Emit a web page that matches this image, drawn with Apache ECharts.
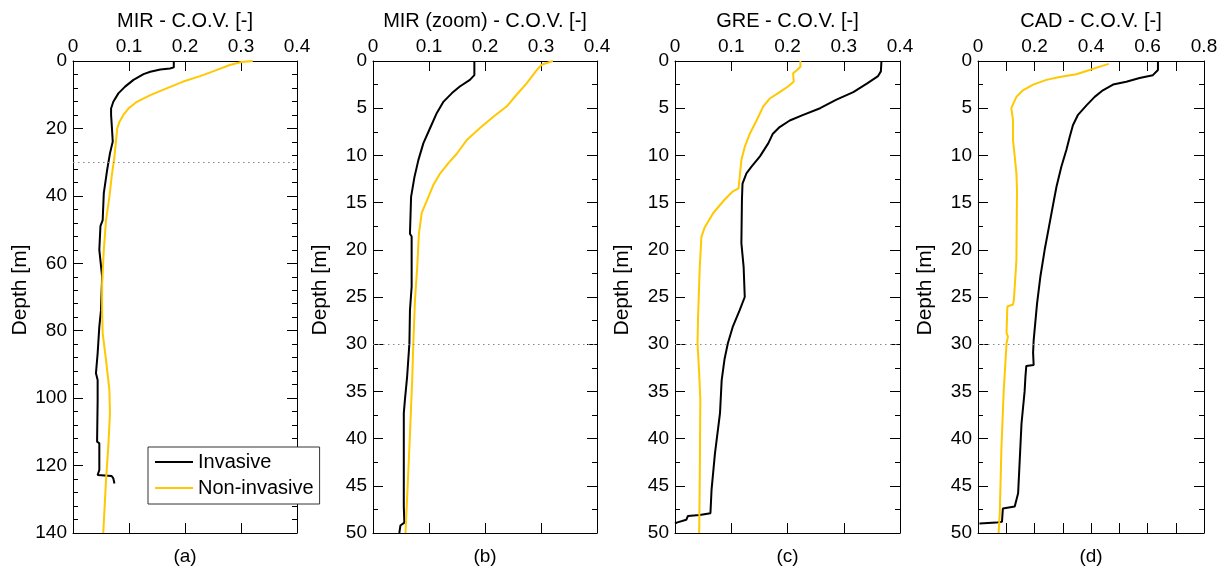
<!DOCTYPE html>
<html>
<head>
<meta charset="utf-8">
<script src="https://cdn.jsdelivr.net/npm/echarts@6/dist/echarts.min.js"></script>
<style>
html,body{margin:0;padding:0;background:#fff;}
#c{width:1228px;height:573px;}
</style>
</head>
<body>
<div id="c"></div>
<script>
// ---------- DATA (depth [m], C.O.V. [-]) ----------
const panelTitles = ['MIR - C.O.V. [-]', 'MIR (zoom) - C.O.V. [-]', 'GRE - C.O.V. [-]', 'CAD - C.O.V. [-]'];
const panelLetters = ['(a)', '(b)', '(c)', '(d)'];
const seriesNames = ['Invasive', 'Non-invasive'];
const depthMax = [140, 50, 50, 50];
const depthInterval = [20, 5, 5, 5];
const covMax = [0.4, 0.4, 0.4, 0.8];
const refDepth = 30;

const depthA_inv = [0,1.9,2.2,2.5,3.2,3.9,5.6,7.6,9.6,12.1,14.1,16.0,18.5,23.9,27.4,32.3,39.2,47.2,49.0,56.0,64.0,73.9,78.8,86.7,92.6,94.6,100.6,112.9,113.4,121.3,122.8,123.1,123.8,125.3];
const covA_inv   = [0.180,0.180,0.173,0.156,0.138,0.126,0.108,0.093,0.081,0.072,0.068,0.068,0.069,0.071,0.066,0.061,0.055,0.053,0.049,0.047,0.052,0.050,0.047,0.044,0.041,0.044,0.044,0.043,0.047,0.047,0.044,0.069,0.072,0.074];
const depthA_non = [0,0.3,1.2,2.7,4.5,6.1,8.1,10.1,12.1,14.1,16.0,18.0,20.0,23.4,28.4,34.3,40.3,47.2,56.1,66.0,73.9,80.8,88.7,97.6,104.5,114.4,124.3,140];
const covA_non   = [0.321,0.301,0.280,0.256,0.227,0.197,0.167,0.138,0.114,0.099,0.090,0.083,0.079,0.077,0.074,0.069,0.065,0.059,0.055,0.052,0.052,0.053,0.059,0.065,0.066,0.063,0.059,0.054];

const depthB_inv = [0,1.5,2.0,2.7,3.4,4.3,5.5,7.1,8.7,10.5,12.3,14.4,18.3,18.6,23.9,26.4,29.9,33.4,35.9,37.3,47.2,48.9,49.2,50];
const covB_inv   = [0.181,0.181,0.173,0.155,0.141,0.126,0.114,0.102,0.090,0.081,0.074,0.068,0.066,0.069,0.069,0.066,0.065,0.061,0.057,0.055,0.055,0.056,0.049,0.047];
const depthB_non = [0,0.4,1.0,2.4,3.6,4.8,5.9,7.1,8.4,9.8,10.8,11.9,13.1,14.4,16.1,18.3,21.8,25.3,29.9,33.8,40.9,46.2,50];
const covB_non   = [0.321,0.301,0.292,0.274,0.256,0.239,0.215,0.191,0.167,0.150,0.135,0.120,0.108,0.099,0.087,0.082,0.079,0.075,0.072,0.070,0.065,0.061,0.058];

const depthC_inv = [0,1.1,1.6,2.4,3.3,4.1,5.0,5.7,6.3,7.0,7.7,8.7,10.1,11.2,11.9,13.0,14.7,19.3,21.8,25.0,26.4,28.1,29.9,31.6,33.8,37.3,41.6,45.4,47.9,48.1,48.2,48.6,48.9,49.0];
const covC_inv   = [0.367,0.366,0.361,0.341,0.317,0.287,0.258,0.228,0.204,0.186,0.174,0.166,0.151,0.136,0.127,0.120,0.119,0.118,0.122,0.124,0.115,0.103,0.094,0.088,0.083,0.080,0.071,0.065,0.063,0.044,0.023,0.020,0.003,0.000];
const depthC_non = [0,0.6,1.0,1.3,2.2,2.7,3.3,4.0,4.8,6.3,7.7,9.1,10.5,12.3,13.5,13.8,14.7,16.1,17.6,18.6,21.8,27.1,29.9,33.1,35.9,44.4,50];
const covC_non   = [0.223,0.223,0.216,0.210,0.211,0.201,0.186,0.168,0.157,0.145,0.133,0.124,0.118,0.115,0.113,0.103,0.088,0.068,0.053,0.047,0.044,0.041,0.040,0.043,0.045,0.044,0.043];

const depthD_inv = [0,0.95,1.5,1.8,2.2,2.5,3.1,3.8,4.7,5.7,6.8,8.0,9.4,11.2,13.3,14.7,17.6,20.0,22.8,25.7,29.6,30.9,31.1,32.2,32.3,33.4,35.0,38.4,45.8,47.2,47.4,48.8,48.9,49.0];
const covD_inv   = [0.637,0.637,0.619,0.572,0.525,0.478,0.442,0.413,0.384,0.354,0.336,0.325,0.313,0.295,0.278,0.269,0.251,0.236,0.221,0.209,0.197,0.195,0.201,0.197,0.171,0.168,0.165,0.154,0.142,0.130,0.088,0.085,0.065,0.005];
const depthD_non = [0.3,0.6,0.95,1.4,1.7,2.0,2.5,3.1,3.8,4.7,5.0,6.3,8.4,10.1,11.9,13.7,21.1,25.3,25.8,26.0,28.8,29.2,29.9,35.0,40.9,48.0,50];
const covD_non   = [0.463,0.431,0.395,0.348,0.289,0.242,0.195,0.159,0.136,0.122,0.118,0.124,0.124,0.130,0.136,0.138,0.136,0.127,0.124,0.104,0.101,0.106,0.101,0.091,0.083,0.077,0.073];

const panelData = [
  [[depthA_inv, covA_inv], [depthA_non, covA_non]],
  [[depthB_inv, covB_inv], [depthB_non, covB_non]],
  [[depthC_inv, covC_inv], [depthC_non, covC_non]],
  [[depthD_inv, covD_inv], [depthD_non, covD_non]]
];

// ---------- LAYOUT / STYLE ----------
const FONT = "'Liberation Sans', Arial, Helvetica, sans-serif";
const colors = ['#000000', '#ffc800'];
const grids = [
  {left: 73, top: 61, width: 224, height: 472},
  {left: 373, top: 61, width: 224, height: 472},
  {left: 675, top: 61, width: 225, height: 472},
  {left: 978, top: 61, width: 226, height: 472}
];

const zip = (d, v) => d.map((y, i) => [v[i], y]);
const fmt = v => (v === 0 ? '0' : (Math.round(v * 10) / 10).toString());

const xAxes = [], yAxes = [], series = [], graphics = [];
grids.forEach((g, i) => {
  const wide = covMax[i] > 0.5;
  const tick = () => ({show: true, inside: true, length: 10, lineStyle: {color: '#000', width: 1}});
  const line = () => ({show: true, onZero: false, lineStyle: {color: '#000', width: 1}});
  const minor = () => ({show: true, splitNumber: i === 0 ? 5 : 2, length: 5, lineStyle: {color: '#000', width: 1}});
  xAxes.push({
    type: 'value', gridIndex: i, position: 'top', min: 0, max: covMax[i], interval: 0.1,
    axisLine: line(), axisTick: tick(), splitLine: {show: false},
    axisLabel: {
      show: true, margin: 5, color: '#000', fontSize: 19, fontFamily: FONT,
      formatter: v => {
        if (wide && Math.round(v * 10) % 2 !== 0) return '';
        return fmt(v);
      }
    }
  });
  xAxes.push({
    type: 'value', gridIndex: i, position: 'bottom', min: 0, max: covMax[i], interval: 0.1,
    axisLine: line(), axisTick: tick(), splitLine: {show: false},
    axisLabel: {show: false}
  });
  yAxes.push({
    type: 'value', gridIndex: i, position: 'left', inverse: true, min: 0, max: depthMax[i], interval: depthInterval[i],
    axisLine: line(), axisTick: tick(), minorTick: minor(), splitLine: {show: false},
    axisLabel: {show: true, margin: 6, color: '#000', fontSize: 19, fontFamily: FONT}
  });
  yAxes.push({
    type: 'value', gridIndex: i, position: 'right', inverse: true, min: 0, max: depthMax[i], interval: depthInterval[i],
    axisLine: line(), axisTick: tick(), minorTick: minor(), splitLine: {show: false},
    axisLabel: {show: false}
  });
  panelData[i].forEach((pair, k) => {
    const s = {
      name: seriesNames[k], type: 'line', xAxisIndex: 2 * i, yAxisIndex: 2 * i,
      data: zip(pair[0], pair[1]), symbol: 'none', showSymbol: false,
      lineStyle: {color: colors[k], width: 2}, itemStyle: {color: colors[k]},
      z: 3 + k, silent: true, clip: true
    };
    if (k === 0) {
      s.markLine = {
        silent: true, symbol: ['none', 'none'], label: {show: false},
        lineStyle: {color: '#888', type: [1.5, 3.5], width: 1},
        emphasis: {disabled: true},
        data: [{yAxis: refDepth}]
      };
    }
    series.push(s);
  });
  const cx = g.left + g.width / 2;
  graphics.push({type: 'text', x: cx, y: 21, style: {text: panelTitles[i], font: '20px ' + FONT, fill: '#000', textAlign: 'center', textVerticalAlign: 'middle'}});
  graphics.push({type: 'text', x: cx, y: 557, style: {text: panelLetters[i], font: '19px ' + FONT, fill: '#000', textAlign: 'center', textVerticalAlign: 'middle'}});
  graphics.push({type: 'text', x: g.left - 53, y: 290, rotation: Math.PI / 2,
    style: {text: 'Depth [m]', font: '21px ' + FONT, fill: '#000', textAlign: 'center', textVerticalAlign: 'middle'}});
});

const chart = echarts.init(document.getElementById('c'), null, {renderer: 'canvas'});
chart.setOption({
  animation: false,
  backgroundColor: '#fff',
  grid: grids,
  xAxis: xAxes,
  yAxis: yAxes,
  series: series,
  graphic: graphics,
  legend: {
    show: true, left: 148, top: 447, orient: 'vertical',
    data: seriesNames, icon: 'rect', itemWidth: 38, itemHeight: 2, itemGap: 6,
    padding: [5, 6, 6, 7], borderColor: '#333', borderWidth: 1, backgroundColor: '#fff',
    textStyle: {fontSize: 20, color: '#000', fontFamily: FONT},
    selectedMode: false, z: 10
  }
});
</script>
</body>
</html>
